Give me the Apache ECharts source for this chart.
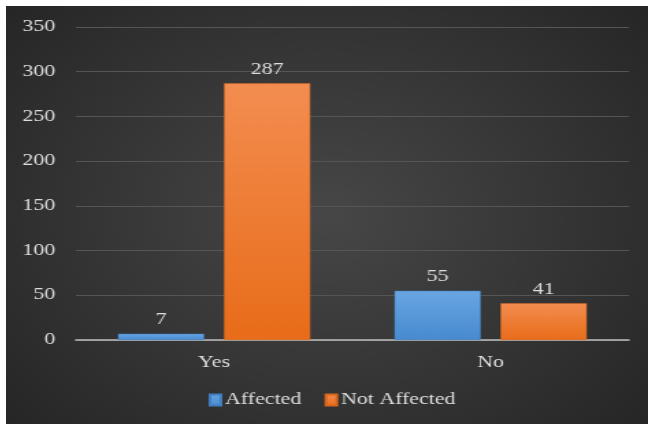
<!DOCTYPE html>
<html>
<head>
<meta charset="utf-8">
<script src="https://cdn.jsdelivr.net/npm/echarts@6/dist/echarts.min.js"></script>
<style>
  html, body { margin: 0; padding: 0; background: #ffffff; width: 648px; height: 424px; overflow: hidden; }
  #wrap { position: absolute; left: 6px; top: 6px; width: 642px; height: 418px; overflow: hidden; }
  /* the chart is laid out narrower and widened, giving the broad serif lettering */
  #chart { position: absolute; left: 0; top: 0; width: 469px; height: 418px; transform: scaleX(1.369); transform-origin: 0 0; }
</style>
</head>
<body>
<div id="wrap"><div id="chart"></div></div>
<script>
const categories = ['Yes', 'No'];
const affected = [7, 55];
const notAffected = [287, 41];
const yTicks = { min: 0, max: 350, interval: 50 };

const FONT = '"Liberation Serif", "Times New Roman", serif';
const TEXT = '#dedede';

const chart = echarts.init(document.getElementById('chart'), null, { renderer: 'canvas' });

function vgrad(top, bottom) {
  return new echarts.graphic.LinearGradient(0, 0, 0, 1, [
    { offset: 0, color: top },
    { offset: 1, color: bottom }
  ]);
}

const labelStyle = {
  show: true,
  position: 'top',
  distance: 6,
  color: TEXT,
  fontFamily: FONT,
  fontSize: 16
};

chart.setOption({
  animation: false,
  backgroundColor: new echarts.graphic.RadialGradient(0.5, 0.5, 0.75, [
    { offset: 0, color: '#474747' },
    { offset: 1, color: '#262626' }
  ]),
  grid: { left: 51, right: 14, top: 21, bottom: 84, containLabel: false },
  legend: {
    left: 143,
    top: 381,
    itemWidth: 8,
    itemHeight: 11,
    itemGap: 17,
    icon: 'rect',
    textStyle: { color: TEXT, fontFamily: FONT, fontSize: 16, padding: [0, 0, 0, -2] },
    data: ['Affected', 'Not Affected']
  },
  xAxis: {
    type: 'category',
    data: categories,
    axisLine: { lineStyle: { color: '#bfbfbf', width: 1.5 } },
    axisTick: { show: false },
    axisLabel: { color: TEXT, fontFamily: FONT, fontSize: 16, margin: 15 }
  },
  yAxis: {
    type: 'value',
    min: yTicks.min,
    max: yTicks.max,
    interval: yTicks.interval,
    axisLine: { show: false },
    axisTick: { show: false },
    axisLabel: { color: TEXT, fontFamily: FONT, fontSize: 16, margin: 15 },
    splitLine: { lineStyle: { color: '#555555', width: 1 } }
  },
  series: [
    {
      name: 'Affected',
      type: 'bar',
      data: affected,
      barWidth: 63,
      barGap: '23%',
      itemStyle: { color: vgrad('#69a6e2', '#478ad0'), borderColor: '#3f7fc2', borderWidth: 0.5 },
      label: labelStyle
    },
    {
      name: 'Not Affected',
      type: 'bar',
      data: notAffected,
      barWidth: 63,
      barGap: '23%',
      itemStyle: { color: vgrad('#f38d50', '#e86c19'), borderColor: '#d9661c', borderWidth: 0.5 },
      label: labelStyle
    }
  ]
});
</script>
</body>
</html>
